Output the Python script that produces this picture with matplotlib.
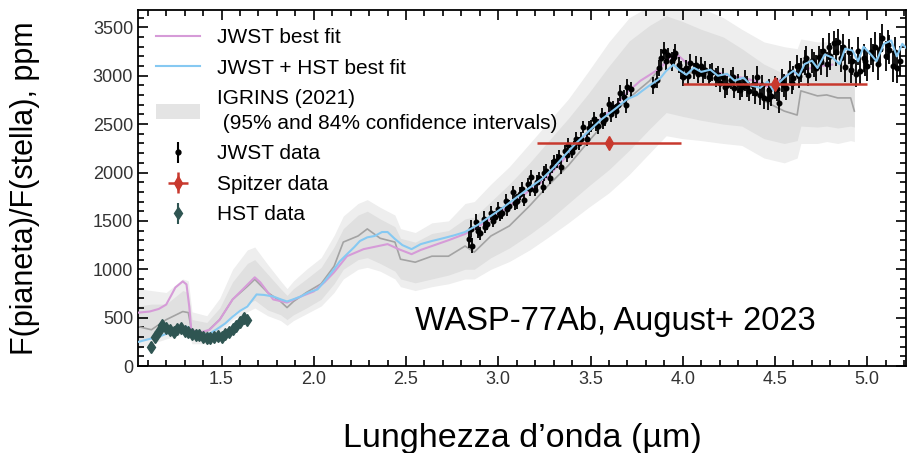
import numpy as np
import matplotlib.pyplot as plt
from matplotlib.patches import Patch
from matplotlib.ticker import MultipleLocator

plt.rcParams['font.family'] = ['Liberation Sans', 'DejaVu Sans']

# --- IGRINS (2021) retrieval: median + 84% / 95% intervals ---
ig_wl = [1.05, 1.12, 1.20, 1.29, 1.32, 1.34, 1.42, 1.49, 1.56, 1.64, 1.68, 1.75, 1.82, 1.855, 1.89,
         1.96, 2.04, 2.11, 2.16, 2.24, 2.29, 2.36, 2.44, 2.47, 2.55, 2.64, 2.73, 2.82, 2.87, 2.96,
         3.06, 3.17, 3.27, 3.38, 3.49, 3.60, 3.71, 3.82, 3.91, 4.00, 4.10, 4.22, 4.32, 4.44, 4.55,
         4.62, 4.64, 4.73, 4.78, 4.84, 4.91, 4.93]
ig_mid = [406, 375, 479, 563, 552, 344, 354, 479, 688, 823, 896, 760, 667, 604, 667,
          760, 850, 1031, 1281, 1344, 1417, 1320, 1281, 1104, 1073, 1135, 1135, 1240, 1177, 1344,
          1448, 1656, 1865, 2073, 2323, 2563, 2771, 2948, 3156, 3052, 3000, 2958, 2920, 2740, 2635,
          2594, 2844, 2792, 2802, 2771, 2771, 2635]
ig95_lo = [180, 230, 280, 330, 330, 230, 230, 330, 480, 560, 600, 520, 470, 420, 470,
           540, 620, 760, 900, 1000, 1020, 980, 900, 820, 780, 820, 850, 900, 900, 1000,
           1080, 1200, 1330, 1480, 1640, 1790, 1980, 2200, 2380, 2350, 2330, 2300, 2280, 2150, 2100,
           2150, 2300, 2300, 2320, 2300, 2330, 2320]
ig95_hi = [800, 780, 760, 900, 880, 560, 520, 700, 1000, 1200, 1230, 1050, 880, 800, 880,
           1000, 1120, 1350, 1550, 1680, 1720, 1640, 1560, 1420, 1380, 1480, 1500, 1680, 1700, 1880,
           2060, 2300, 2520, 2760, 3050, 3350, 3600, 3720, 3800, 3780, 3700, 3600, 3480, 3350, 3300,
           3280, 3380, 3350, 3350, 3320, 3300, 3250]
ig84_lo = [260, 300, 350, 400, 400, 270, 280, 380, 540, 640, 680, 580, 530, 480, 530,
           600, 690, 850, 1000, 1100, 1120, 1060, 980, 900, 860, 900, 940, 1000, 1000, 1120,
           1220, 1360, 1500, 1680, 1860, 2030, 2230, 2450, 2620, 2580, 2540, 2500, 2480, 2350, 2300,
           2330, 2480, 2470, 2480, 2460, 2480, 2470]
ig84_hi = [620, 640, 640, 780, 760, 480, 450, 600, 870, 1060, 1100, 950, 800, 730, 800,
           900, 1020, 1230, 1420, 1560, 1600, 1520, 1440, 1320, 1280, 1370, 1400, 1520, 1540, 1700,
           1880, 2100, 2320, 2560, 2820, 3100, 3360, 3520, 3620, 3560, 3480, 3400, 3280, 3120, 3020,
           3030, 3200, 3180, 3180, 3150, 3140, 3100]

# --- best-fit models ---
jw_fit_wl = [1.05, 1.11, 1.16, 1.20, 1.23, 1.25, 1.29, 1.31, 1.325, 1.336, 1.38, 1.435, 1.49, 1.56,
             1.615, 1.68, 1.71, 1.78, 1.855, 1.93, 2.0, 2.06, 2.11, 2.18, 2.27, 2.35, 2.40, 2.46,
             2.53, 2.58, 2.64, 2.73, 2.82, 2.89, 2.96, 3.02, 3.09, 3.16, 3.24, 3.30, 3.36, 3.42,
             3.49, 3.56, 3.64, 3.70, 3.77, 3.83, 3.88, 3.93, 3.97, 4.01, 4.06, 4.10, 4.15, 4.20,
             4.25, 4.33, 4.40, 4.44, 4.48, 4.52, 4.57, 4.62, 4.66, 4.70, 4.75, 4.81]
jw_fit = [552, 563, 590, 635, 740, 812, 875, 844, 615, 375, 344, 375, 479, 688,
          792, 917, 865, 688, 656, 719, 771, 870, 969, 1135, 1208, 1240, 1260, 1208,
          1156, 1200, 1240, 1300, 1365, 1440, 1521, 1600, 1698, 1800, 1906, 2020, 2146, 2280,
          2427, 2560, 2698, 2830, 2948, 3020, 3083, 3188, 3219, 3150, 3115, 3080, 3052, 3030,
          3000, 2979, 2940, 2900, 2875, 2950, 3010, 3040, 3060, 3083, 3100, 3115]

jh_fit_wl = [1.05, 1.10, 1.16, 1.21, 1.25, 1.29, 1.31, 1.34, 1.37, 1.40, 1.44, 1.47, 1.52, 1.56,
             1.60, 1.64, 1.69, 1.73, 1.78, 1.82, 1.855, 1.89, 1.93, 1.97, 2.02, 2.06, 2.11, 2.14,
             2.18, 2.22, 2.25, 2.29, 2.33, 2.37, 2.40, 2.44, 2.48, 2.53, 2.58, 2.64, 2.70, 2.76,
             2.82, 2.89, 2.96, 3.02, 3.09, 3.16, 3.24, 3.30, 3.36, 3.42, 3.49, 3.56, 3.64, 3.70,
             3.75, 3.78, 3.82, 3.86, 3.88, 3.91, 3.95, 3.98, 4.02, 4.06, 4.10, 4.15, 4.19, 4.24,
             4.28, 4.33, 4.37, 4.42, 4.46, 4.49, 4.51, 4.55, 4.60, 4.63, 4.66, 4.70, 4.73, 4.77,
             4.81, 4.85, 4.88, 4.92, 4.95, 4.98, 5.02, 5.05, 5.09, 5.13, 5.16, 5.19, 5.21]
jh_fit = [250, 275, 302, 340, 375, 400, 406, 354, 330, 323, 340, 375, 440, 510,
          570, 615, 740, 735, 719, 690, 667, 690, 719, 760, 792, 880, 1000, 1080,
          1156, 1230, 1292, 1330, 1344, 1385, 1385, 1313, 1250, 1208, 1260, 1292, 1320, 1350,
          1385, 1460, 1552, 1630, 1729, 1830, 1938, 2050, 2177, 2300, 2427, 2550, 2667, 2760,
          2800, 2844, 2900, 2950, 2979, 3050, 3115, 3060, 3010, 3083, 3040, 3063, 3000, 3020,
          2950, 2979, 2900, 2875, 2940, 2850, 2906, 2980, 3052, 3000, 3120, 3156, 3080, 3220,
          3188, 3120, 3280, 3260, 3150, 3300, 3219, 3150, 3330, 3365, 3200, 3330, 3290]

# --- JWST NIRSpec data ---
jwst_wl = [2.84, 2.86, 2.88, 2.90, 2.92, 2.94, 2.96, 2.98, 3.00, 3.02, 3.04, 3.06, 3.08, 3.10, 3.12,
           3.14, 3.16, 3.18, 3.20, 3.22, 3.24, 3.26, 3.28, 3.30, 3.32, 3.34, 3.36, 3.38, 3.40, 3.42,
           3.44, 3.46, 3.48, 3.50, 3.52, 3.54, 3.56, 3.58, 3.60, 3.62, 3.64, 3.66, 3.68, 3.70, 3.72,
           3.84, 3.86, 3.88, 3.90, 3.92, 3.94, 3.96, 3.98, 4.00, 4.02, 4.04, 4.06, 4.08, 4.10, 4.12,
           4.14, 4.16, 4.18, 4.20, 4.22, 4.24, 4.26, 4.28, 4.30, 4.32, 4.34, 4.36, 4.38, 4.40, 4.42,
           4.44, 4.46, 4.48, 4.50, 4.52, 4.54, 4.56, 4.58, 4.60, 4.62, 4.64, 4.66, 4.68, 4.70, 4.72,
           4.74, 4.76, 4.78, 4.80, 4.82, 4.84, 4.86, 4.88, 4.90, 4.92, 4.94, 4.96, 4.98, 5.00, 5.02,
           5.04, 5.06, 5.08, 5.10, 5.12, 5.14, 5.16, 5.18]
jwst_fp = [1309, 1243, 1487, 1370, 1524, 1468, 1582, 1539, 1626, 1583, 1701, 1658, 1795, 1703, 1781,
           1719, 1877, 1955, 1822, 1940, 1848, 2018, 1948, 2118, 2117, 2057, 2227, 2285, 2214, 2342,
           2301, 2469, 2348, 2483, 2555, 2477, 2599, 2551, 2703, 2675, 2637, 2822, 2778, 2883, 2858,
           2900, 2960, 3180, 3260, 3210, 3150, 3240, 3110, 2990, 3080, 3130, 3050, 3020, 3100, 3060,
           2990, 3040, 2980, 2930, 2990, 2900, 2960, 2870, 2920, 2880, 2950, 2840, 2900, 2990, 2800,
           2770, 2760, 2790, 2880, 2720, 2950, 2870, 3040, 2980, 3100, 3060, 3140, 3010, 3150, 3080,
           3190, 3260, 3120, 3200, 3340, 3350, 3180, 3090, 3250, 3150, 3020, 3050, 3180, 3100, 3250,
           3300, 3120, 3390, 3200, 3270, 3100, 3080, 3150]
jwst_err = [90, 80, 85, 70, 75, 65, 70, 60, 70, 65, 75, 60, 70, 80, 65,
            60, 70, 75, 65, 70, 60, 75, 70, 65, 70, 75, 60, 70, 65, 80,
            70, 65, 75, 60, 70, 80, 65, 70, 75, 60, 70, 80, 75, 85, 80,
            90, 85, 95, 90, 80, 100, 90, 85, 95, 80, 90, 85, 100, 90, 95,
            85, 90, 100, 95, 90, 100, 95, 105, 100, 95, 110, 100, 105, 110, 100,
            115, 110, 105, 120, 110, 115, 120, 110, 125, 115, 120, 130, 120, 125, 130,
            120, 135, 130, 140, 125, 135, 140, 150, 130, 145, 140, 150, 145, 155, 140,
            150, 160, 145, 155, 150, 160, 150, 155]

jwst_wl2 = [2.85, 2.89, 2.93, 2.97, 3.01, 3.05, 3.09, 3.13, 3.17, 3.21, 3.25, 3.29, 3.33, 3.37,
            3.41, 3.45, 3.49, 3.53, 3.57, 3.61, 3.65, 3.69,
            3.87, 3.91, 3.95, 3.99, 4.03, 4.07, 4.11, 4.15, 4.19, 4.23, 4.27, 4.31, 4.35, 4.39,
            4.43, 4.47, 4.51, 4.55, 4.59, 4.63, 4.67, 4.71, 4.75, 4.79, 4.83, 4.87, 4.91, 4.95,
            4.99, 5.03, 5.07, 5.11, 5.15]
jwst_fp2 = [1420, 1400, 1440, 1500, 1560, 1620, 1690, 1830, 1830, 1900, 1990, 2060, 2160, 2180,
            2260, 2350, 2460, 2500, 2520, 2600, 2700, 2700,
            3080, 3150, 3190, 3060, 3000, 3110, 3020, 3030, 3010, 2880, 2990, 2850, 2890, 2820,
            2900, 2850, 2860, 2900, 2930, 3000, 3180, 3120, 3140, 3300, 3250, 3300, 3060, 3260,
            3150, 3180, 3280, 3320, 3250]
jwst_err2 = [85, 80, 70, 65, 60, 65, 75, 70, 70, 70, 75, 65, 75, 70,
             70, 70, 70, 70, 75, 80, 75, 85,
             85, 95, 90, 90, 100, 90, 95, 90, 95, 105, 100, 105, 105, 115,
             105, 120, 120, 120, 115, 130, 125, 130, 135, 140, 145, 135, 140, 145,
             150, 145, 160, 155, 150]

# --- Spitzer photometry ---
spz_wl = [3.6, 4.5]
spz_fp = [2300, 2910]
spz_xerr = [0.39, 0.5]
spz_yerr = [40, 40]

# --- HST WFC3 data ---
hst_wl = [1.12, 1.14, 1.16, 1.18, 1.20, 1.22, 1.24, 1.26, 1.28, 1.30, 1.32, 1.34, 1.36, 1.38,
          1.40, 1.42, 1.44, 1.46, 1.48, 1.50, 1.52, 1.54, 1.56, 1.58, 1.60, 1.62, 1.64]
hst_fp = [200, 300, 360, 420, 390, 370, 355, 380, 395, 365, 350, 335, 325, 320,
          300, 290, 285, 295, 310, 300, 330, 350, 380, 410, 460, 500, 480]
hst_err = [45, 45, 40, 40, 40, 40, 40, 40, 40, 40, 40, 40, 40, 40,
           40, 40, 40, 40, 40, 40, 40, 40, 45, 45, 45, 45, 45]

PINK = '#d69bd8'
BLUE = '#86c9f2'
RED = '#c8392e'
HSTC = '#2f5552'

fig = plt.figure(figsize=(9.1, 4.53), dpi=100)
ax = fig.add_axes([0.1516, 0.192, 0.844, 0.786])

ax.fill_between(ig_wl, ig95_lo, ig95_hi, color='#eeeeee', lw=0, zorder=1)
ax.fill_between(ig_wl, ig84_lo, ig84_hi, color='#e0e0e0', lw=0, zorder=1)
ax.plot(ig_wl, ig_mid, color='#a3a3a3', lw=1.2, zorder=2)

ax.plot(jw_fit_wl, jw_fit, color=PINK, lw=1.5, zorder=3)

ax.errorbar(jwst_wl, jwst_fp, yerr=jwst_err, fmt='o', color='black', ms=3.3,
            elinewidth=1.3, capsize=0, zorder=5)
ax.errorbar(jwst_wl2, jwst_fp2, yerr=jwst_err2, fmt='o', color='black', ms=3.3,
            elinewidth=1.3, capsize=0, zorder=5)
ax.plot(jh_fit_wl, jh_fit, color=BLUE, lw=1.5, zorder=5.5)
ax.errorbar(hst_wl, hst_fp, yerr=hst_err, fmt='d', color=HSTC, ms=6,
            elinewidth=1.5, capsize=0, zorder=6)
ax.errorbar(spz_wl, spz_fp, xerr=spz_xerr, yerr=spz_yerr, fmt='d', color=RED,
            ms=7, elinewidth=1.8, capsize=0, zorder=7)

ax.set_xlim(1.047, 5.21)
ax.set_ylim(0, 3680)
ax.xaxis.set_major_locator(MultipleLocator(0.5))
ax.xaxis.set_minor_locator(MultipleLocator(0.1))
ax.yaxis.set_major_locator(MultipleLocator(500))
ax.yaxis.set_minor_locator(MultipleLocator(100))
ax.tick_params(which='both', direction='in', top=True, right=True, labelsize=13,
               labelcolor='#333333', width=1.2)
ax.tick_params(which='major', length=7)
ax.tick_params(which='minor', length=4)
for s in ax.spines.values():
    s.set_linewidth(1.3)

handles = [
    plt.Line2D([], [], color=PINK, lw=1.5),
    plt.Line2D([], [], color=BLUE, lw=1.5),
    Patch(facecolor='#e4e4e4', edgecolor='none'),
    ax.errorbar([], [], yerr=[], fmt='o', color='black', ms=3.5, elinewidth=1.5),
    ax.errorbar([], [], xerr=[], yerr=[], fmt='d', color=RED, ms=7, elinewidth=1.8),
    ax.errorbar([], [], yerr=[], fmt='d', color=HSTC, ms=6, elinewidth=1.5),
]
labels = ['JWST best fit', 'JWST + HST best fit',
          'IGRINS (2021)\n (95% and 84% confidence intervals)',
          'JWST data', 'Spitzer data', 'HST data']
leg = ax.legend(handles, labels, loc='upper left', frameon=False, fontsize=15,
                handlelength=2.15, handletextpad=0.8, labelspacing=0.55,
                borderaxespad=0.3, bbox_to_anchor=(0.004, 0.99))
leg.get_texts()[2].set_linespacing(1.4)

ax.text(2.548, 372, 'WASP-77Ab, August+ 2023', fontsize=23.5, ha='left', va='baseline')

fig.text(25 / 910, 1 - 188 / 453, 'F(pianeta)/F(stella), ppm', rotation=90,
         ha='center', va='center', fontsize=22)
fig.text(522 / 910, 1 - 438 / 453, 'Lunghezza d’onda (µm)', ha='center', va='center',
         fontsize=24.5)

fig.savefig('out.png', dpi=100)
